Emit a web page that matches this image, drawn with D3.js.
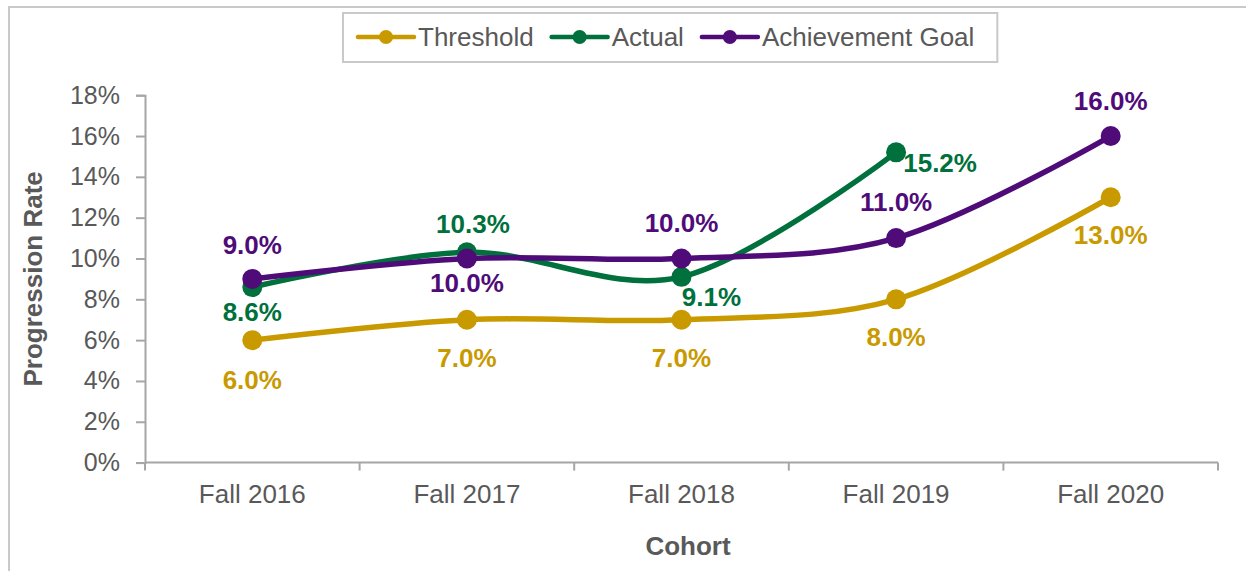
<!DOCTYPE html>
<html>
<head>
<meta charset="utf-8">
<script src="https://cdn.jsdelivr.net/npm/d3@7/dist/d3.min.js"></script>
<style>
  html, body { margin: 0; padding: 0; background: #fff; }
  svg { display: block; font-family: "Liberation Sans", Arial, sans-serif; }
</style>
</head>
<body>
<svg id="chart" width="1246" height="571"></svg>
<script>
// chart values
const cohorts = ["Fall 2016", "Fall 2017", "Fall 2018", "Fall 2019", "Fall 2020"];
const threshold = [6.0, 7.0, 7.0, 8.0, 13.0];
const actual = [8.6, 10.3, 9.1, 15.2, null];
const goal = [9.0, 10.0, 10.0, 11.0, 16.0];
const yTicks = [0, 2, 4, 6, 8, 10, 12, 14, 16, 18];

// label nudges (px from the point to the label baseline centre)
const labelOffsets = {
  threshold: [[0, 49], [0, 47], [0, 47], [0, 47], [0, 47]],
  actual: [[0, 34], [6, -19], [30, 29], [44, 20], null],
  goal: [[0, -25], [0, 34], [0, -26], [0, -27], [0, -26]]
};

const series = [
  { key: "threshold", name: "Threshold", color: "#C99A00", values: threshold },
  { key: "actual", name: "Actual", color: "#00703C", values: actual },
  { key: "goal", name: "Achievement Goal", color: "#4F0C78", values: goal }
];

const svg = d3.select("#chart");
const axisColor = "#a6a6a6";
const textColor = "#595959";

// outer chart frame (top and left edges visible)
svg.append("path")
  .attr("d", "M9,580 L9,7 L1260,7")
  .attr("fill", "none")
  .attr("stroke", "#c9c9c9")
  .attr("stroke-width", 2);

const plot = { left: 145, right: 1218, top: 95.2, bottom: 462.6 };

const x = d3.scaleBand()
  .domain(cohorts)
  .range([plot.left, plot.right]);

const y = d3.scaleLinear()
  .domain([0, 18])
  .range([plot.bottom, plot.top]);

// y axis
const yAxis = svg.append("g")
  .attr("transform", `translate(${plot.left},0)`)
  .call(d3.axisLeft(y).tickValues(yTicks).tickSize(9).tickPadding(16).tickFormat((d) => d + "%"));
yAxis.select(".domain").attr("stroke", axisColor).attr("stroke-width", 2);
yAxis.selectAll(".tick line").attr("stroke", axisColor).attr("stroke-width", 2);
yAxis.selectAll(".tick text")
  .attr("fill", textColor)
  .attr("font-size", 25)
  .attr("font-family", "Liberation Sans, Arial, sans-serif");

// x axis: ticks on category boundaries
const xAxisG = svg.append("g");
xAxisG.append("line")
  .attr("x1", plot.left).attr("x2", plot.right)
  .attr("y1", plot.bottom).attr("y2", plot.bottom)
  .attr("stroke", axisColor).attr("stroke-width", 2);
const edges = cohorts.map((c) => x(c)).concat([x(cohorts[cohorts.length - 1]) + x.bandwidth()]);
xAxisG.selectAll("line.edge")
  .data(edges)
  .join("line")
  .attr("class", "edge")
  .attr("x1", (d) => d).attr("x2", (d) => d)
  .attr("y1", plot.bottom).attr("y2", plot.bottom + 8)
  .attr("stroke", axisColor).attr("stroke-width", 2);
xAxisG.selectAll("text")
  .data(cohorts)
  .join("text")
  .attr("x", (d) => x(d) + x.bandwidth() / 2)
  .attr("y", 503)
  .attr("text-anchor", "middle")
  .attr("fill", textColor)
  .attr("font-size", 26)
  .text((d) => d);

// axis titles
svg.append("text")
  .attr("transform", `translate(42,${(plot.top + plot.bottom) / 2}) rotate(-90)`)
  .attr("text-anchor", "middle")
  .attr("fill", textColor)
  .attr("font-size", 26)
  .attr("font-weight", "bold")
  .text("Progression Rate");

svg.append("text")
  .attr("x", 688)
  .attr("y", 555)
  .attr("text-anchor", "middle")
  .attr("fill", textColor)
  .attr("font-size", 26)
  .attr("font-weight", "bold")
  .text("Cohort");

// lines
const cx = (i) => x(cohorts[i]) + x.bandwidth() / 2;
const line = d3.line()
  .defined((d) => d != null)
  .x((d, i) => cx(i))
  .y((d) => y(d))
  .curve(d3.curveCardinal.tension(0));

const lineG = svg.append("g");
series.forEach((s) => {
  lineG.append("path")
    .attr("d", line(s.values))
    .attr("fill", "none")
    .attr("stroke", s.color)
    .attr("stroke-width", 5.5)
    .attr("stroke-linejoin", "round");
});

series.forEach((s) => {
  const pts = s.values.map((v, i) => ({ v, i })).filter((d) => d.v != null);
  lineG.selectAll(null)
    .data(pts)
    .join("circle")
    .attr("cx", (d) => cx(d.i))
    .attr("cy", (d) => y(d.v))
    .attr("r", 10)
    .attr("fill", s.color);
});

// data labels
series.forEach((s) => {
  const pts = s.values.map((v, i) => ({ v, i })).filter((d) => d.v != null);
  svg.append("g").selectAll("text")
    .data(pts)
    .join("text")
    .attr("x", (d) => cx(d.i) + labelOffsets[s.key][d.i][0])
    .attr("y", (d) => y(d.v) + labelOffsets[s.key][d.i][1])
    .attr("text-anchor", "middle")
    .attr("fill", s.color)
    .attr("font-size", 26)
    .attr("font-weight", "bold")
    .text((d) => d.v.toFixed(1) + "%");
});

// legend
const legend = svg.append("g");
const legendBox = legend.append("rect")
  .attr("fill", "#fff")
  .attr("stroke", "#c9c9c9")
  .attr("stroke-width", 2);
let lx = 0;
series.forEach((s) => {
  const g = legend.append("g").attr("transform", `translate(${lx},0)`);
  g.append("line")
    .attr("x1", 0).attr("x2", 56)
    .attr("y1", 0).attr("y2", 0)
    .attr("stroke", s.color).attr("stroke-width", 4.5)
    .attr("stroke-linecap", "round");
  g.append("circle").attr("cx", 28).attr("cy", 0).attr("r", 7).attr("fill", s.color);
  const t = g.append("text")
    .attr("x", 60)
    .attr("y", 9)
    .attr("fill", textColor)
    .attr("font-size", 26)
    .text(s.name);
  const w = t.node().getComputedTextLength();
  lx += 60 + w + 18;
});
const legendW = lx - 18;
const legendLeft = 358;
legend.attr("transform", `translate(${legendLeft},37)`);
legendBox
  .attr("x", -15).attr("y", -24)
  .attr("width", legendW + 38).attr("height", 49);
</script>
</body>
</html>
